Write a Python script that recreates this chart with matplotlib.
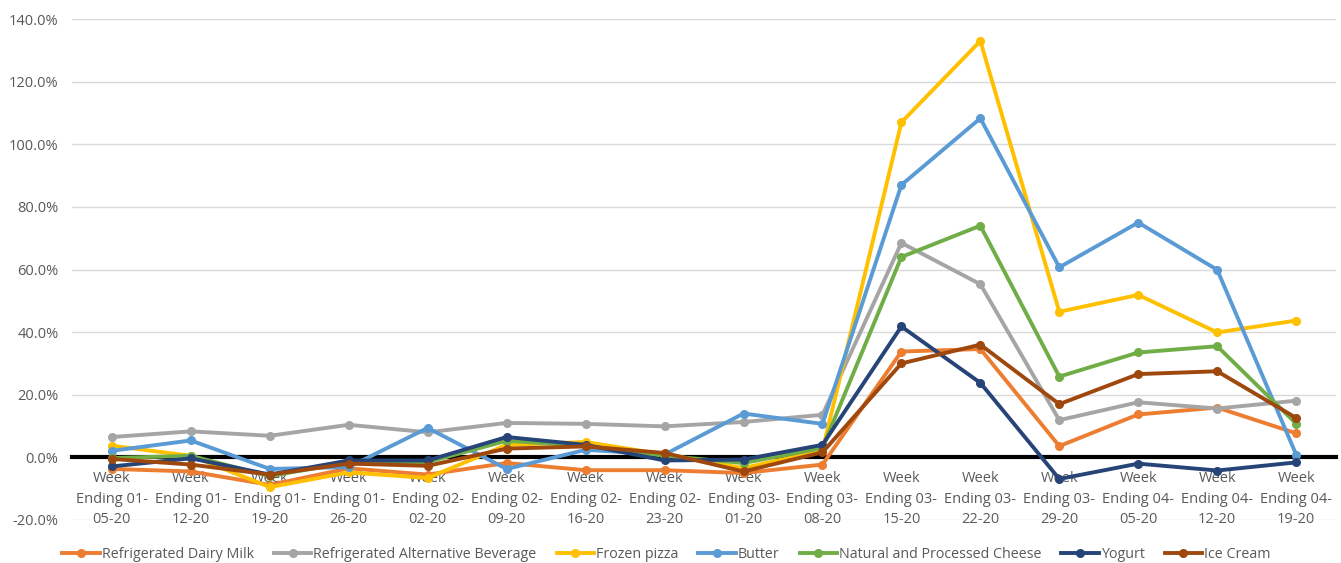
import matplotlib.pyplot as plt
from matplotlib.ticker import FuncFormatter

# weekly % change vs. year ago
weeks = ["01-05-20", "01-12-20", "01-19-20", "01-26-20", "02-02-20", "02-09-20",
         "02-16-20", "02-23-20", "03-01-20", "03-08-20", "03-15-20", "03-22-20",
         "03-29-20", "04-05-20", "04-12-20", "04-19-20"]

dairy_milk = [-3.7, -4.5, -8.8, -3.5, -5.5, -1.8, -4.1, -4.1, -5.0, -2.3, 33.8, 34.6, 3.6, 13.7, 15.9, 7.7]
alt_beverage = [6.5, 8.3, 6.9, 10.4, 8.0, 11.0, 10.7, 9.9, 11.3, 13.6, 68.5, 55.3, 11.9, 17.6, 15.6, 18.1]
frozen_pizza = [3.7, 0.5, -9.5, -4.8, -6.6, 4.0, 4.9, 0.9, -3.4, 2.2, 107.0, 133.0, 46.5, 51.9, 39.9, 43.7]
butter = [2.1, 5.4, -3.7, -3.1, 9.4, -3.7, 2.4, 0.9, 14.0, 10.7, 87.0, 108.3, 60.7, 75.0, 59.9, 0.9]
cheese = [-0.2, 0.5, -6.0, -1.5, -1.5, 5.3, 3.7, 0.5, -1.8, 3.0, 64.0, 74.0, 25.8, 33.5, 35.5, 10.8]
yogurt = [-2.9, -0.3, -5.5, -1.0, -1.0, 6.5, 4.0, -1.0, -0.7, 4.0, 41.8, 23.8, -6.9, -2.0, -4.2, -1.6]
ice_cream = [-0.5, -2.3, -5.5, -2.0, -2.7, 2.8, 3.5, 1.4, -4.5, 1.6, 30.0, 36.0, 17.0, 26.6, 27.5, 12.6]

series = [
    ("Refrigerated Dairy Milk", dairy_milk, "#ED7D31"),
    ("Refrigerated Alternative Beverage", alt_beverage, "#A5A5A5"),
    ("Frozen pizza", frozen_pizza, "#FFC000"),
    ("Butter", butter, "#5B9BD5"),
    ("Natural and Processed Cheese", cheese, "#70AD47"),
    ("Yogurt", yogurt, "#264478"),
    ("Ice Cream", ice_cream, "#9E480E"),
]

plt.rcParams['font.family'] = ['Open Sans', 'DejaVu Sans']

fig = plt.figure(figsize=(13.41, 5.63), dpi=100)
ax = fig.add_axes([0.054, 0.0764, 0.942, 0.8898])

x = list(range(len(weeks)))
for name, vals, color in series:
    ax.plot(x, vals, color=color, lw=2.8, marker="o", markersize=5.5, label=name, zorder=3)

ax.set_xlim(-0.5, len(weeks) - 0.5)
ax.set_ylim(-20, 140)
ax.set_yticks(range(-20, 141, 20))
ax.yaxis.set_major_formatter(FuncFormatter(lambda v, p: f"{v:.1f}%"))
ax.grid(axis="y", color="#D9D9D9", lw=1)
ax.set_axisbelow(True)

ax.set_xticks(x)
ax.set_xticklabels(["Week\nEnding " + w[:3] + "\n" + w[3:] for w in weeks])
ax.spines["bottom"].set_position(("data", 0))
ax.spines["bottom"].set_color("black")
ax.spines["bottom"].set_linewidth(3)
ax.spines["bottom"].set_zorder(2.5)
for s in ["top", "right", "left"]:
    ax.spines[s].set_visible(False)
ax.tick_params(axis="both", length=0, colors="#595959", labelsize=10.5)
ax.tick_params(axis="x", pad=10)
ax.tick_params(axis="y", pad=10)
for t in ax.get_xticklabels():
    t.set_linespacing(1.5)

ax.legend(loc="center", bbox_to_anchor=(0.497, 0.015), bbox_transform=fig.transFigure,
          ncol=7, frameon=False, fontsize=10.3, labelcolor="#595959",
          handlelength=2.6, handletextpad=0.15, columnspacing=1.4)

fig.savefig("out.png", dpi=100)
